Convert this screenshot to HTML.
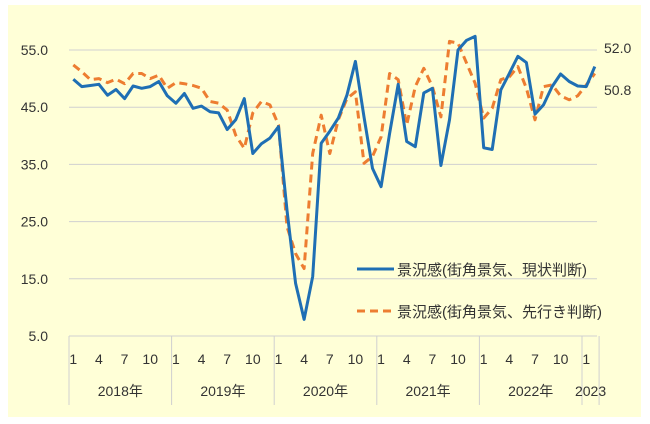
<!DOCTYPE html>
<html><head><meta charset="utf-8">
<style>
html,body{margin:0;padding:0;background:#fff;}
body{width:650px;height:424px;position:relative;overflow:hidden;font-family:"Liberation Sans","Noto Sans CJK JP",sans-serif;}
#bg{position:absolute;left:8px;top:5px;width:633px;height:412px;background:#ffffd7;}
svg{position:absolute;left:0;top:0;}
</style></head>
<body>
<div id="bg"></div>
<svg id="chart" width="650" height="424"></svg>
<script>
const yTicks = [55, 45, 35, 25, 15, 5];
const monthLabels = ["1","4","7","10","1","4","7","10","1","4","7","10","1","4","7","10","1","4","7","10","1"];
const yearLabels = ["2018年","2019年","2020年","2021年","2022年","2023"];
const currentSeries = [49.9,48.6,48.8,49.0,47.1,48.1,46.5,48.7,48.3,48.6,49.5,47.0,
45.7,47.4,44.8,45.2,44.2,44.0,41.1,42.8,46.5,36.9,38.6,39.6,
41.6,27.0,14.2,7.9,15.4,38.7,40.8,43.1,47.1,53.0,43.3,34.3,
31.1,40.4,49.0,39.0,38.1,47.5,48.3,34.8,42.8,55.0,56.7,57.4,
37.9,37.6,48.0,50.9,53.9,52.8,43.8,45.4,48.6,50.8,49.5,48.7,
48.6,52.1];
const outlookSeries = [52.4,51.2,49.8,50.0,49.3,49.9,49.1,50.9,50.9,50.0,50.6,48.3,
49.3,49.1,48.8,48.3,46.0,45.7,44.5,40.1,37.8,44.0,46.0,45.4,
41.9,24.1,19.4,16.8,36.9,43.6,36.9,42.8,46.5,47.7,35.2,36.4,
39.8,50.9,49.8,41.9,48.6,51.8,48.6,43.3,56.5,56.2,52.7,49.2,
43.1,44.8,49.8,50.3,52.1,48.3,42.8,48.6,48.9,47.0,46.3,47.0,
48.9,50.9];
const rightLabels = ["52.0","50.8"];

const NS="http://www.w3.org/2000/svg";
const svg=document.getElementById('chart');
const X0=69, MW=102.6/12, Y0=336, YS=5.72;
function xPos(i){return X0+MW*(i+0.5);}
function yPos(v){return Y0-(v-5)*YS;}
function mk(tag,attrs){const e=document.createElementNS(NS,tag);for(const k in attrs)e.setAttribute(k,attrs[k]);svg.appendChild(e);return e;}

yTicks.forEach(v=>{
  if(v>5){
    const g=mk('line',{x1:X0,x2:597,y1:yPos(v),y2:yPos(v),stroke:'#d0d0d0','stroke-width':1});
    
    
  }
  const t=mk('text',{x:48,y:yPos(v)+5,'text-anchor':'end','font-size':14,fill:'#333'});
  t.textContent=v.toFixed(1);
  
  
});
const ax=mk('line',{x1:X0,x2:597,y1:Y0,y2:Y0,stroke:'#d0d0d0','stroke-width':1});


const divMonths=[0,12,24,36,48,60,62];
divMonths.forEach(m=>{
  const l=mk('line',{x1:X0+MW*m,x2:X0+MW*m,y1:Y0,y2:405,stroke:'#d0d0d0','stroke-width':1});
  
  
});
monthLabels.forEach((lab,k)=>{
  const t=mk('text',{x:xPos(k*3),y:364,'text-anchor':'middle','font-size':14,fill:'#333'});
  t.textContent=lab;
  
  
});
yearLabels.forEach((lab,k)=>{
  const s=divMonths[k], e=divMonths[k+1];
  const t=mk('text',{x:X0+MW*(s+e)/2,y:396,'text-anchor':'middle','font-size':14,fill:'#333'});
  t.textContent=lab;
  
  
});
function line(data,color,dash,name){
  const p=mk('polyline',{points:data.map((v,i)=>xPos(i).toFixed(1)+','+yPos(v).toFixed(1)).join(' '),fill:'none',stroke:color,'stroke-width':3,'stroke-linejoin':'round'});
  if(dash)p.setAttribute('stroke-dasharray',dash);
  
  
}
line(outlookSeries,'#ed7d31','8,5','outlook-series-line');
line(currentSeries,'#1f6fb4',null,'current-series-line');

[[48],[90]].forEach((y,k)=>{
  const t=mk('text',{x:604,y:y[0]+5,'font-size':14,fill:'#333'});
  t.textContent=rightLabels[k];
  
  
});
const l1=mk('line',{x1:357,x2:394,y1:269,y2:269,stroke:'#1f6fb4','stroke-width':3});


const t1=mk('text',{x:397,y:275,'font-size':15,fill:'#333'});
t1.textContent='景況感(街角景気、現状判断)';


const l2=mk('line',{x1:357,x2:394,y1:311,y2:311,stroke:'#ed7d31','stroke-width':3,'stroke-dasharray':'8,5'});


const t2=mk('text',{x:397,y:317,'font-size':15,fill:'#333'});
t2.textContent='景況感(街角景気、先行き判断)';


</script>
</body></html>
